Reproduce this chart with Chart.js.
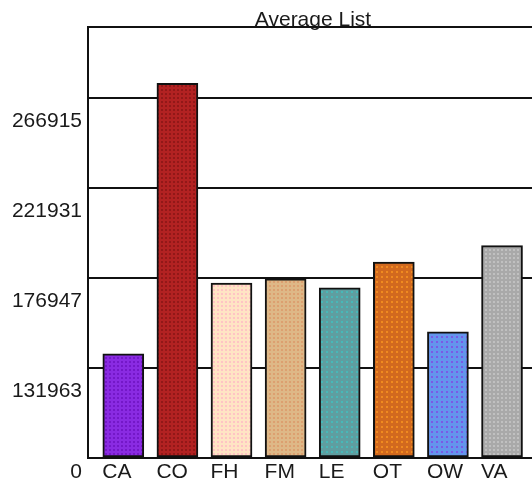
<!DOCTYPE html>
<html>
<head>
<meta charset="utf-8">
<script src="https://cdn.jsdelivr.net/npm/chart.js@4.4.0/dist/chart.umd.min.js"></script>
<style>
  html, body { margin: 0; padding: 0; background: #ffffff; }
  #wrap { width: 532px; height: 483px; }
</style>
</head>
<body>
<div id="wrap"><canvas id="c" width="532" height="483"></canvas></div>
<script>
// ---- data ----
const chartTitle = 'Average List';
const categories = ['CA', 'CO', 'FH', 'FM', 'LE', 'OT', 'OW', 'VA'];
const averages = [139060, 274212, 174348, 176447, 172047, 184844, 150056, 193041];
const tickValues = [86979, 131963, 176947, 221931, 266915];
const tickLabels = ['0', '131963', '176947', '221931', '266915'];
const axisMin = 86979;
const axisMax = 302300;
const baseColors = ['#8a2be2', '#b22222', '#ffe4c4', '#deb887', '#5f9ea0', '#d2691e', '#6495ed', '#a9a9a9'];
const dotColors  = ['#7418c8', '#921818', '#ffc4c4', '#dca070', '#48b8b8', '#f08a20', '#7a5ae6', '#c0c0c0'];
const dotPeriods = [4, 4, 4, 4, 5, 5, 5, 4];

function makePattern(base, dot, period) {
  const c = document.createElement('canvas');
  c.width = period; c.height = period;
  const g = c.getContext('2d');
  g.fillStyle = base; g.fillRect(0, 0, period, period);
  g.fillStyle = dot; g.fillRect(1, 1, 2, 2);
  return g.createPattern(c, 'repeat');
}
const fills = baseColors.map((b, i) => makePattern(b, dotColors[i], dotPeriods[i]));

const FONT = '21px "Liberation Sans", Arial, sans-serif';
const TEXT = '#1a1a1a';

const labelPlugin = {
  id: 'labelPlugin',
  afterDraw(chart) {
    const ctx = chart.ctx;
    const xs = chart.scales.x, ys = chart.scales.y;
    ctx.save();
    ctx.font = FONT;
    ctx.fillStyle = TEXT;
    // title
    ctx.textAlign = 'center';
    ctx.textBaseline = 'alphabetic';
    ctx.fillText(chartTitle, 313, 26);
    // y labels
    ctx.textAlign = 'right';
    ctx.textBaseline = 'middle';
    tickValues.forEach((v, i) => {
      const py = ys.getPixelForValue(v);
      const y = i === 0 ? py + 14 : py + 23;
      ctx.fillText(tickLabels[i], 82, y);
    });
    // x labels
    ctx.textAlign = 'left';
    const yb = ys.getPixelForValue(axisMin) + 14;
    categories.forEach((c, i) => {
      const px = xs.getPixelForValue(i);
      ctx.fillText(c, px - 21, yb);
    });
    ctx.restore();
  }
};

new Chart(document.getElementById('c'), {
  type: 'bar',
  data: {
    datasets: [{
      label: chartTitle,
      data: categories.map((c, i) => ({ x: i, y: averages[i] })),
      backgroundColor: fills,
      borderColor: '#111111',
      borderWidth: 2,
      borderSkipped: false,
      barThickness: 41,
      base: axisMin
    }]
  },
  options: {
    responsive: false,
    devicePixelRatio: 1,
    animation: false,
    layout: { padding: { left: 88, top: 27, right: 0, bottom: 25 } },
    plugins: { legend: { display: false }, title: { display: false }, tooltip: { enabled: false } },
    scales: {
      x: {
        type: 'linear',
        offset: false,
        min: -0.6525,
        max: 7.554,
        grid: { display: false, drawTicks: false, offset: false },
        border: { display: true, color: '#111111', width: 2 },
        ticks: { display: false },
        afterBuildTicks: (s) => { s.ticks = categories.map((c, i) => ({ value: i })); }
      },
      y: {
        type: 'linear',
        min: axisMin,
        max: axisMax,
        grid: { display: true, color: '#111111', lineWidth: 2, drawTicks: false },
        border: { display: true, color: '#111111', width: 2 },
        ticks: { display: false },
        afterBuildTicks: (s) => { s.ticks = tickValues.concat([axisMax]).map(v => ({ value: v })); }
      }
    }
  },
  plugins: [labelPlugin]
});
</script>
</body>
</html>
